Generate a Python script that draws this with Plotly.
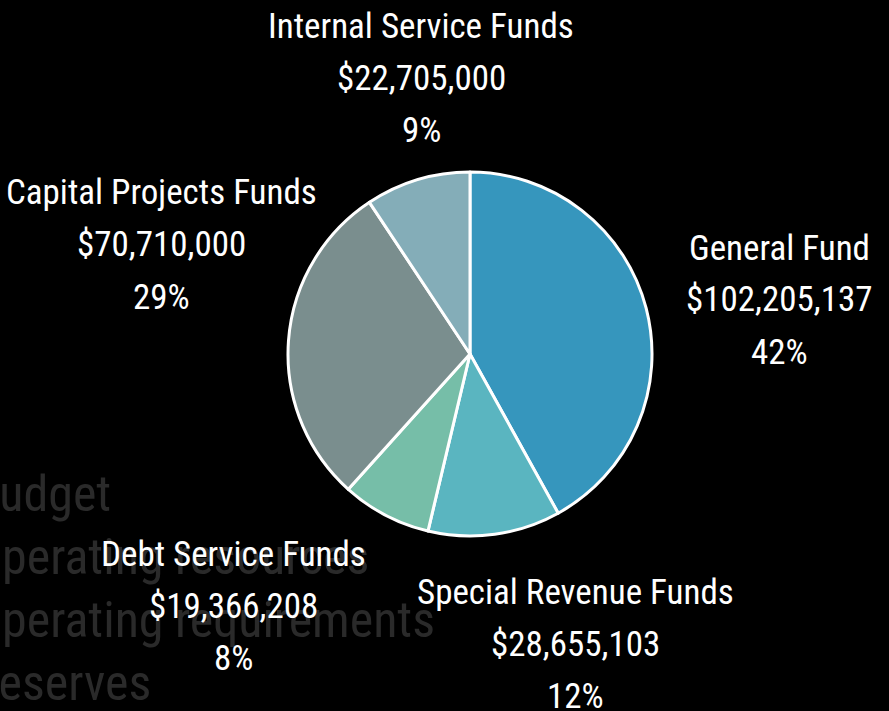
import plotly.graph_objects as go

# Fund breakdown
funds = ["General Fund", "Special Revenue Funds", "Debt Service Funds",
         "Capital Projects Funds", "Internal Service Funds"]
amounts = [102205137, 28655103, 19366208, 70710000, 22705000]
colors = ["#3696BD", "#5AB5C0", "#76BEA8", "#7A8E8E", "#84ADB8"]

# Faint section headings behind the chart
headings = ["Budget", "Operating resources", "Operating requirements", "Reserves"]

W, H = 889, 711
CX, CY, R = 470, 354, 182          # pie centre and radius, px
LINE_STEP = 52                      # spacing between label lines, px

# Centre of the first label line for each fund, px
label_pos = {
    "General Fund": (779, 248),
    "Special Revenue Funds": (575, 592),
    "Debt Service Funds": (233, 554),
    "Capital Projects Funds": (161, 193),
    "Internal Service Funds": (421, 26),
}

FONT = "Roboto Condensed, Arial Narrow, sans-serif"

fig = go.Figure(go.Pie(
    labels=funds,
    values=amounts,
    sort=False,
    direction="clockwise",
    rotation=0,
    marker=dict(colors=colors, line=dict(color="white", width=3)),
    textinfo="none",
    hoverinfo="label+value+percent",
    domain=dict(x=[(CX - R) / W, (CX + R) / W],
                y=[(H - CY - R) / H, (H - CY + R) / H]),
))

annotations = []

# Background headings, partly running off the left edge
for i, h in enumerate(headings):
    annotations.append(dict(
        text=h, x=-30 / W, y=1 - (494 + i * 63) / H,
        xref="paper", yref="paper", xanchor="left", yanchor="middle",
        showarrow=False, font=dict(family=FONT, size=50, color="#2a2a2a"),
    ))

total = sum(amounts)
for name, amt in zip(funds, amounts):
    x0, y0 = label_pos[name]
    lines = [name, f"${amt:,}", f"{round(100 * amt / total)}%"]
    for k, line in enumerate(lines):
        annotations.append(dict(
            text=line, x=x0 / W, y=1 - (y0 + k * LINE_STEP) / H,
            xref="paper", yref="paper", xanchor="center", yanchor="middle",
            showarrow=False, font=dict(family=FONT, size=35, color="white"),
        ))

fig.update_layout(
    width=W, height=H,
    margin=dict(l=0, r=0, t=0, b=0),
    paper_bgcolor="black", plot_bgcolor="black",
    showlegend=False,
    annotations=annotations,
)

fig.write_html("out.html")
